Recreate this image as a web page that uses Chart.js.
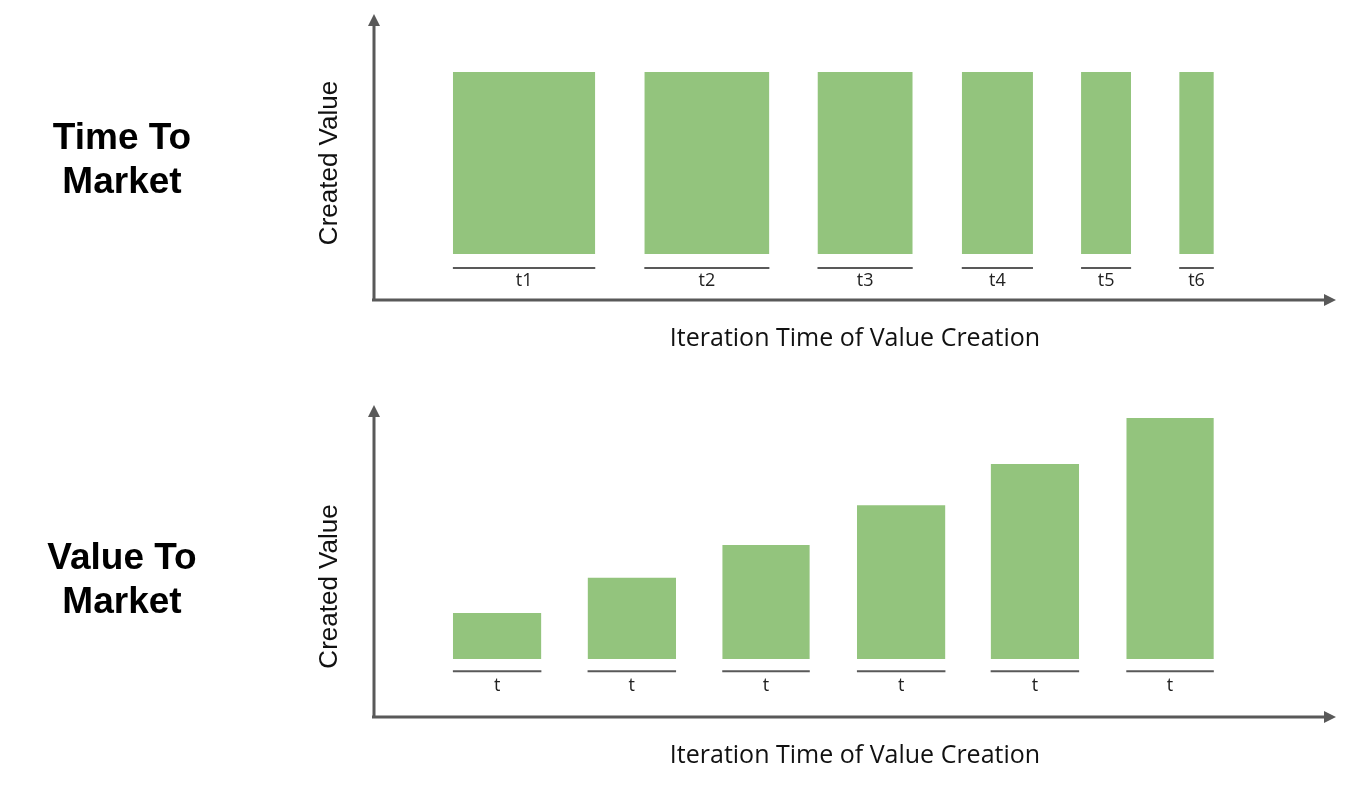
<!DOCTYPE html>
<html>
<head>
<meta charset="utf-8">
<script src="https://cdn.jsdelivr.net/npm/chart.js"></script>
<style>
  body { margin: 0; background: #fff; width: 1350px; height: 787px; position: relative; overflow: hidden; }
  canvas { position: absolute; left: 0; }
  .side { position: absolute; left: 0; width: 244px; text-align: center; font-family: "Liberation Sans", Arial, sans-serif; font-weight: bold; font-size: 37px; line-height: 44px; color: #000; }
</style>
</head>
<body>
<canvas id="ttm" width="1350" height="393" style="top:0"></canvas>
<canvas id="vtm" width="1350" height="394" style="top:393px"></canvas>
<div class="side" style="top:115px">Time To<br>Market</div>
<div class="side" style="top:535px">Value To<br>Market</div>
<script>
// top chart: shrinking iteration times, same value each time
const ttmLabels = ["t1", "t2", "t3", "t4", "t5", "t6"];
const ttmStart = [8.2, 28.1, 46.1, 61.1, 73.5, 83.7];
const ttmEnd = [23.0, 41.1, 56.0, 68.5, 78.7, 87.3];
const ttmBase = [16.1, 16.1, 16.1, 16.1, 16.1, 16.1];
const ttmValue = [79.7, 79.7, 79.7, 79.7, 79.7, 79.7];
const ttmMarkY = 11.2;

// bottom chart: same iteration time, growing value
const vtmLabels = ["t", "t", "t", "t", "t", "t"];
const vtmStart = [8.2, 22.2, 36.2, 50.2, 64.1, 78.2];
const vtmEnd = [17.4, 31.4, 45.3, 59.4, 73.3, 87.3];
const vtmBase = [18.6, 18.6, 18.6, 18.6, 18.6, 18.6];
const vtmValue = [33.3, 44.6, 55.1, 67.9, 81.1, 95.8];
const vtmMarkY = 14.7;

const xTitle = "Iteration Time of Value Creation";
const yTitle = "Created Value";

const green = "#93c47d";
const axisGrey = "#595959";

function mkDatasets(start, end, base, value, markY) {
  let sets = [];
  for (let i = 0; i < start.length; i++) {
    // the bar: top edge filled down to its base value
    sets.push({
      data: [{ x: start[i], y: value[i] }, { x: end[i], y: value[i] }],
      fill: { value: base[i] },
      backgroundColor: green,
      borderWidth: 0,
      pointRadius: 0,
    });
    // the interval mark under the bar
    sets.push({
      data: [{ x: start[i], y: markY }, { x: end[i], y: markY }],
      fill: false,
      borderColor: axisGrey,
      borderWidth: 2,
      pointRadius: 0,
    });
  }
  return sets;
}

const axesPlugin = {
  id: "arrowAxes",
  afterDraw(chart, args, opts) {
    const ctx = chart.ctx;
    const a = chart.chartArea;
    const xs = chart.scales.x;
    const ys = chart.scales.y;
    ctx.save();
    ctx.strokeStyle = axisGrey;
    ctx.fillStyle = axisGrey;
    ctx.lineWidth = 3;
    ctx.beginPath();
    ctx.moveTo(a.left, a.bottom);
    ctx.lineTo(a.left, a.top + 10);
    ctx.moveTo(a.left - 2, a.bottom);
    ctx.lineTo(a.right - 10, a.bottom);
    ctx.stroke();
    // arrow heads
    ctx.beginPath();
    ctx.moveTo(a.left, a.top);
    ctx.lineTo(a.left - 6, a.top + 12);
    ctx.lineTo(a.left + 6, a.top + 12);
    ctx.closePath();
    ctx.fill();
    ctx.beginPath();
    ctx.moveTo(a.right, a.bottom);
    ctx.lineTo(a.right - 12, a.bottom - 6);
    ctx.lineTo(a.right - 12, a.bottom + 6);
    ctx.closePath();
    ctx.fill();

    // labels under the interval marks
    ctx.fillStyle = "#222";
    ctx.textAlign = "center";
    ctx.textBaseline = "middle";
    ctx.font = '18px "Open Sans", sans-serif';
    opts.labels.forEach((lb, i) => {
      let cx = xs.getPixelForValue((opts.start[i] + opts.end[i]) / 2);
      ctx.fillText(lb, cx, ys.getPixelForValue(opts.markY) + opts.labelGap);
    });

    // axis titles
    ctx.fillStyle = "#111";
    ctx.font = '25px "Open Sans", sans-serif';
    ctx.fillText(xTitle, (a.left + a.right) / 2, a.bottom + 39);
    ctx.save();
    ctx.translate(330, opts.yTitleMid);
    ctx.rotate(-Math.PI / 2);
    ctx.font = '26px "Liberation Sans", Arial, sans-serif';
    ctx.fillText(yTitle, 0, 0);
    ctx.restore();
    ctx.restore();
  },
};

function mkChart(id, start, end, base, value, markY, labels, pad, yTitleMid, labelGap) {
  return new Chart(document.getElementById(id), {
    type: "line",
    data: { datasets: mkDatasets(start, end, base, value, markY) },
    options: {
      responsive: false,
      animation: false,
      layout: { padding: pad },
      scales: {
        x: { type: "linear", min: 0, max: 100, display: false },
        y: { min: 0, max: 100, display: false },
      },
      plugins: {
        legend: { display: false },
        tooltip: { enabled: false },
        arrowAxes: {
          labels: labels,
          start: start,
          end: end,
          markY: markY,
          labelGap: labelGap,
          yTitleMid: yTitleMid,
        },
      },
    },
    plugins: [axesPlugin],
  });
}

mkChart("ttm", ttmStart, ttmEnd, ttmBase, ttmValue, ttmMarkY, ttmLabels,
  { left: 374, right: 14, top: 14, bottom: 93 }, 163, 13);
mkChart("vtm", vtmStart, vtmEnd, vtmBase, vtmValue, vtmMarkY, vtmLabels,
  { left: 374, right: 14, top: 12, bottom: 70 }, 193.5, 15);
</script>
</body>
</html>
